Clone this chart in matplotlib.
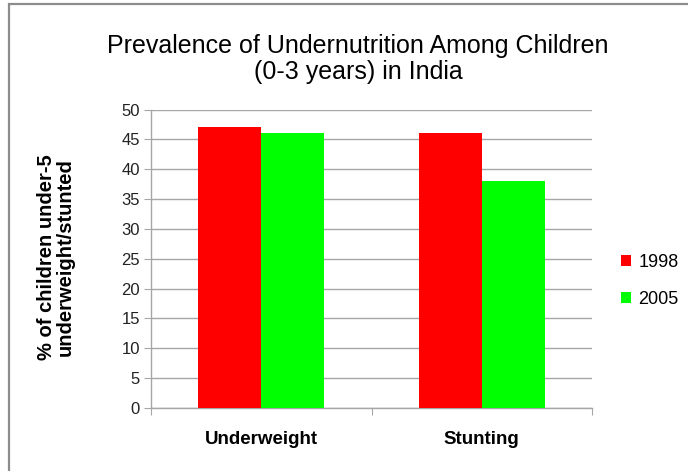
import matplotlib.pyplot as plt
import numpy as np
from matplotlib.patches import Rectangle

categories = ['Underweight', 'Stunting']
years = ['1998', '2005']
values_1998 = [47, 46]
values_2005 = [46, 38]
colors = ['#ff0000', '#00ff00']

plt.rcParams['font.family'] = ['Liberation Sans', 'DejaVu Sans']

fig = plt.figure(figsize=(6.88, 4.71), dpi=100)
fig.patch.set_facecolor('white')
# outer chart frame
fig.patches.append(Rectangle((9 / 688, -0.05), 1.1, (471 - 4) / 471 + 0.05,
                             transform=fig.transFigure, fill=False,
                             edgecolor='#8c8c8c', linewidth=1.6))

ax = fig.add_axes([151 / 688, 63 / 471, 441 / 688, 298.5 / 471])

x = np.arange(len(categories))
w = 0.286
bars1 = ax.bar(x - w / 2, values_1998, w, color=colors[0], label=years[0], zorder=3)
bars2 = ax.bar(x + w / 2, values_2005, w, color=colors[1], label=years[1], zorder=3)

ax.set_xlim(-0.5, 1.5)
ax.set_ylim(0, 50)
ax.set_yticks(np.arange(0, 51, 5))
ax.yaxis.grid(True, color='#a6a6a6', linewidth=1.0, zorder=0)
ax.set_axisbelow(True)

for side in ['top', 'right']:
    ax.spines[side].set_visible(False)
for side in ['left', 'bottom']:
    ax.spines[side].set_color('#a6a6a6')
    ax.spines[side].set_linewidth(1.0)

ax.tick_params(axis='y', direction='out', length=5, color='#a6a6a6',
               labelsize=12, pad=3, labelcolor='#222222')
# category boundary ticks below the x axis
ax.set_xticks([-0.5, 0.5, 1.5])
ax.set_xticklabels([])
ax.tick_params(axis='x', direction='out', length=5, color='#a6a6a6')
for xi, name in zip(x, categories):
    ax.text(xi, -0.105, name, transform=ax.get_xaxis_transform(),
            ha='center', va='center', fontsize=13.5, fontweight='bold')

fig.text(56 / 688, 1 - 257 / 471, '% of children under-5\nunderweight/stunted',
         rotation=90, ha='center', va='center', fontsize=14.5,
         fontweight='bold', linespacing=0.95)

fig.text(358 / 688, 1 - 59 / 471,
         'Prevalence of Undernutrition Among Children\n(0-3 years) in India',
         ha='center', va='center', fontsize=18, linespacing=1.15)

fig.legend(handles=[bars1, bars2], labels=years, loc='center left',
           bbox_to_anchor=(621 / 688, 1 - 281 / 471), frameon=False,
           borderpad=0, borderaxespad=0,
           fontsize=13, handlelength=0.55, handleheight=0.55,
           handletextpad=0.4, labelspacing=1.1)

fig.savefig('out.png', dpi=100)
